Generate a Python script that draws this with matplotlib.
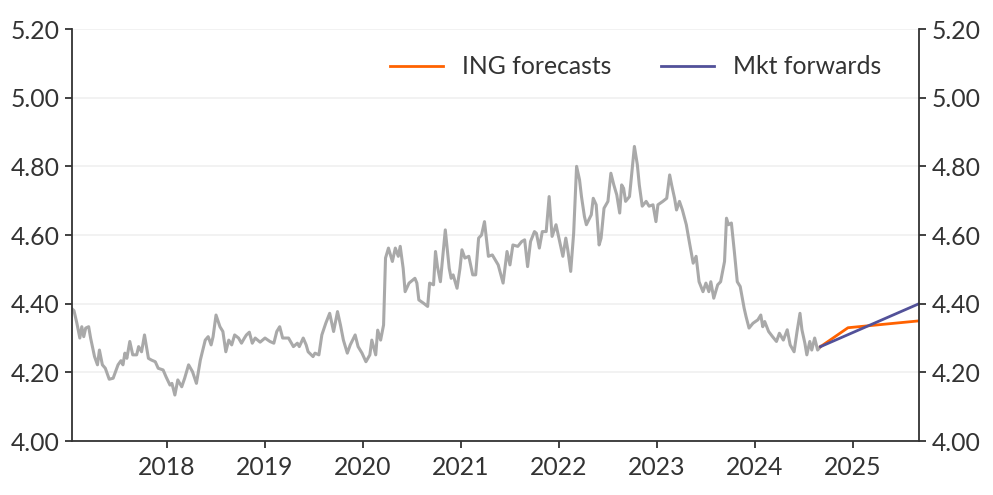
# 10y yield history with ING forecasts vs market forwards
import numpy as np
import matplotlib.pyplot as plt

# history (decimal years, yield %)
hist_x = [
    2017.03, 2017.05, 2017.08, 2017.11, 2017.13, 2017.15, 2017.17, 2017.20, 2017.22, 2017.26,
    2017.29, 2017.31, 2017.34, 2017.37, 2017.41, 2017.45, 2017.50, 2017.53, 2017.55, 2017.57,
    2017.59, 2017.62, 2017.65, 2017.69, 2017.71, 2017.74, 2017.77, 2017.81, 2017.84, 2017.88,
    2017.91, 2017.96, 2017.99, 2018.03, 2018.05, 2018.08, 2018.11, 2018.15, 2018.18, 2018.22,
    2018.26, 2018.30, 2018.34, 2018.39, 2018.42, 2018.45, 2018.47, 2018.50, 2018.54, 2018.57,
    2018.60, 2018.63, 2018.66, 2018.69, 2018.73, 2018.76, 2018.79, 2018.81, 2018.84, 2018.87,
    2018.90, 2018.95, 2019.00, 2019.05, 2019.09, 2019.12, 2019.15, 2019.18, 2019.24, 2019.29,
    2019.33, 2019.35, 2019.39, 2019.42, 2019.44, 2019.49, 2019.51, 2019.55, 2019.58, 2019.62,
    2019.66, 2019.70, 2019.74, 2019.77, 2019.80, 2019.84, 2019.87, 2019.92, 2019.95, 2019.99,
    2020.03, 2020.07, 2020.09, 2020.13, 2020.15, 2020.18, 2020.21, 2020.23, 2020.26, 2020.30,
    2020.33, 2020.36, 2020.38, 2020.41, 2020.43, 2020.47, 2020.53, 2020.55, 2020.57, 2020.62,
    2020.66, 2020.68, 2020.72, 2020.74, 2020.76, 2020.79, 2020.84, 2020.88, 2020.90, 2020.92,
    2020.96, 2020.99, 2021.01, 2021.04, 2021.08, 2021.12, 2021.15, 2021.18, 2021.21, 2021.24,
    2021.28, 2021.32, 2021.38, 2021.43, 2021.47, 2021.50, 2021.53, 2021.58, 2021.62, 2021.65,
    2021.68, 2021.71, 2021.75, 2021.77, 2021.80, 2021.83, 2021.87, 2021.90, 2021.93, 2021.97,
    2022.00, 2022.04, 2022.07, 2022.09, 2022.12, 2022.15, 2022.18, 2022.21, 2022.23, 2022.26,
    2022.28, 2022.33, 2022.35, 2022.38, 2022.41, 2022.43, 2022.46, 2022.50, 2022.53, 2022.56,
    2022.59, 2022.62, 2022.64, 2022.66, 2022.68, 2022.72, 2022.75, 2022.77, 2022.80, 2022.82,
    2022.85, 2022.89, 2022.92, 2022.96, 2022.99, 2023.01, 2023.06, 2023.10, 2023.13, 2023.15,
    2023.18, 2023.20, 2023.23, 2023.26, 2023.30, 2023.33, 2023.37, 2023.40, 2023.43, 2023.47,
    2023.50, 2023.53, 2023.55, 2023.58, 2023.62, 2023.65, 2023.69, 2023.71, 2023.73, 2023.76,
    2023.79, 2023.82, 2023.85, 2023.89, 2023.91, 2023.94, 2023.98, 2024.03, 2024.06, 2024.08,
    2024.10, 2024.14, 2024.18, 2024.22, 2024.25, 2024.29, 2024.33, 2024.36, 2024.40, 2024.43,
    2024.46, 2024.48, 2024.51, 2024.53, 2024.56, 2024.58, 2024.61, 2024.64, 2024.67,
]
hist_y = [
    4.385, 4.380, 4.343, 4.300, 4.333, 4.304, 4.329, 4.333, 4.300, 4.246,
    4.222, 4.265, 4.222, 4.212, 4.180, 4.183, 4.222, 4.234, 4.222, 4.256,
    4.241, 4.290, 4.251, 4.251, 4.275, 4.260, 4.309, 4.241, 4.236, 4.231,
    4.212, 4.207, 4.187, 4.163, 4.168, 4.134, 4.178, 4.158, 4.183, 4.222,
    4.202, 4.168, 4.236, 4.294, 4.304, 4.280, 4.304, 4.367, 4.333, 4.319,
    4.260, 4.294, 4.280, 4.309, 4.300, 4.285, 4.300, 4.309, 4.317, 4.285,
    4.300, 4.288, 4.300, 4.290, 4.285, 4.319, 4.333, 4.300, 4.300, 4.275,
    4.285, 4.275, 4.300, 4.280, 4.260, 4.246, 4.256, 4.251, 4.309, 4.343,
    4.372, 4.319, 4.377, 4.338, 4.294, 4.256, 4.280, 4.309, 4.275, 4.256,
    4.231, 4.251, 4.294, 4.251, 4.323, 4.294, 4.338, 4.533, 4.562, 4.523,
    4.562, 4.538, 4.567, 4.503, 4.435, 4.460, 4.474, 4.460, 4.411, 4.401,
    4.392, 4.460, 4.455, 4.552, 4.508, 4.464, 4.615, 4.503, 4.474, 4.484,
    4.445, 4.503, 4.557, 4.533, 4.538, 4.484, 4.484, 4.591, 4.600, 4.639,
    4.538, 4.542, 4.513, 4.460, 4.552, 4.513, 4.571, 4.567, 4.581, 4.586,
    4.508, 4.581, 4.610, 4.605, 4.562, 4.610, 4.610, 4.712, 4.596, 4.630,
    4.591, 4.538, 4.591, 4.557, 4.494, 4.605, 4.800, 4.761, 4.712, 4.654,
    4.630, 4.659, 4.707, 4.688, 4.571, 4.591, 4.678, 4.698, 4.780, 4.746,
    4.717, 4.664, 4.746, 4.736, 4.698, 4.712, 4.800, 4.858, 4.805, 4.746,
    4.684, 4.698, 4.684, 4.688, 4.639, 4.688, 4.698, 4.707, 4.775, 4.746,
    4.707, 4.673, 4.698, 4.673, 4.630, 4.581, 4.518, 4.538, 4.464, 4.435,
    4.460, 4.435, 4.464, 4.416, 4.455, 4.464, 4.523, 4.649, 4.630, 4.635,
    4.552, 4.464, 4.450, 4.387, 4.362, 4.329, 4.343, 4.353, 4.367, 4.333,
    4.348, 4.319, 4.304, 4.290, 4.314, 4.294, 4.324, 4.280, 4.260, 4.319,
    4.372, 4.324, 4.285, 4.251, 4.290, 4.265, 4.300, 4.265, 4.275,
]

# forecasts
ing_x = [2024.67, 2024.95, 2025.675]
ing_y = [4.275, 4.330, 4.350]
fwd_x = [2024.67, 2025.675]
fwd_y = [4.275, 4.400]

year_ticks = [2018, 2019, 2020, 2021, 2022, 2023, 2024, 2025]
y_ticks = [4.00, 4.20, 4.40, 4.60, 4.80, 5.00, 5.20]

grey = '#a9a9a9'
orange = '#ff6200'
purple = '#525199'
dark = '#333333'

plt.rcParams['font.family'] = ['Lato', 'DejaVu Sans']

fig = plt.figure(figsize=(9.93, 4.95), dpi=100)
ax = fig.add_axes([0.0725, 0.109, 0.853, 0.8324])

ax.plot(hist_x, hist_y, color=grey, lw=2.2, solid_joinstyle='round')
ax.plot(ing_x, ing_y, color=orange, lw=2.0, label='ING forecasts')
ax.plot(fwd_x, fwd_y, color=purple, lw=2.0, label='Mkt forwards')

ax.set_xlim(2017.03, 2025.675)
ax.set_ylim(4.0, 5.2)
ax.set_xticks(year_ticks)
ax.set_xticklabels([str(y) for y in year_ticks])
ax.set_yticks(y_ticks)
ax.set_yticklabels(['%.2f' % v for v in y_ticks])
ax.grid(axis='y', color='#f0f0f0', lw=1.2)
ax.set_axisbelow(True)

ax.spines['top'].set_visible(False)
for s in ['left', 'right', 'bottom']:
    ax.spines[s].set_color(dark)
    ax.spines[s].set_linewidth(1.3)
ax.tick_params(axis='both', colors=dark, labelsize=17.8, length=5, width=1.3, direction='out')
ax.tick_params(axis='y', right=True, labelright=True, pad=4)
ax.tick_params(axis='x', pad=6)

ax.legend(loc='upper right', ncol=2, frameon=False, fontsize=17.8,
          handlelength=2.15, handletextpad=0.77, columnspacing=2.0,
          bbox_to_anchor=(0.982, 0.99), labelcolor=dark)

fig.savefig('out.png', dpi=100)
